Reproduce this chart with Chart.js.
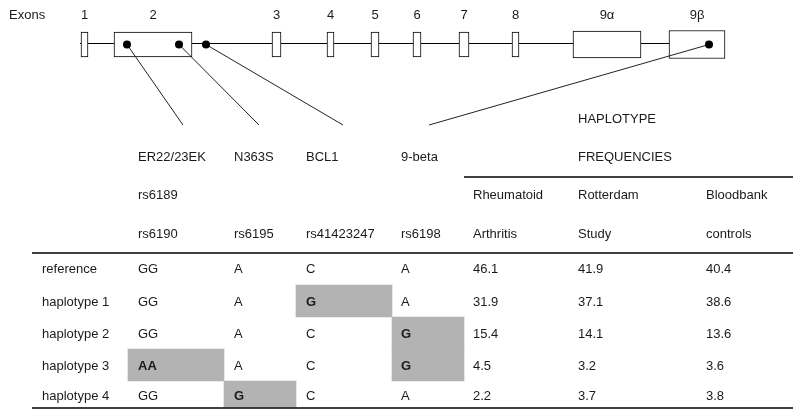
<!DOCTYPE html>
<html>
<head>
<meta charset="utf-8">
<script src="https://cdn.jsdelivr.net/npm/chart.js@4.4.0/dist/chart.umd.min.js"></script>
<style>
  body { margin: 0; background: #fff; }
  #wrap { width: 802px; height: 416px; }
</style>
</head>
<body>
<div id="wrap"><canvas id="chart"></canvas></div>
<script>
// gene map: exons and SNP positions along the (schematic) gene axis
var exonNames = ['1', '2', '3', '4', '5', '6', '7', '8', '9\u03b1', '9\u03b2'];
var exonStart = [81, 114, 272, 327, 371, 413, 459, 512, 573, 669];
var exonEnd   = [88, 192, 281, 334, 379, 421, 469, 519, 641, 725];
var snpPos    = [127, 179, 206, 709];

// haplotype table
var snpNames   = ['ER22/23EK', 'N363S', 'BCL1', '9-beta'];
var snpAlias   = ['rs6189', '', '', ''];
var snpIds     = ['rs6190', 'rs6195', 'rs41423247', 'rs6198'];
var cohortTop  = ['Rheumatoid', 'Rotterdam', 'Bloodbank'];
var cohortBot  = ['Arthritis', 'Study', 'controls'];
var haplotypes = ['reference', 'haplotype 1', 'haplotype 2', 'haplotype 3', 'haplotype 4'];
var alleles = [
    ['GG', 'A', 'C', 'A'],
    ['GG', 'A', 'G', 'A'],
    ['GG', 'A', 'C', 'G'],
    ['AA', 'A', 'C', 'G'],
    ['GG', 'G', 'C', 'A']
];
var freqRA = [46.1, 31.9, 15.4, 4.5, 2.2];
var freqRS = [41.9, 37.1, 14.1, 3.2, 3.7];
var freqBB = [40.4, 38.6, 13.6, 3.6, 3.8];

// layout (figure units = pixels of the 802x416 frame)
var geneY = 44.5;
var exonHeight = [25, 25, 25, 25, 25, 25, 25, 25, 27, 28];
var leadEndX = [183, 259, 343, 429];
var leadEndY = 125;
var colX = [42, 138, 234, 306, 401, 473, 578, 706];
var colEdge = [32, 128, 224, 296, 392, 464, 793];
var headY = [156.5, 194.5, 233];
var rowTop = [253, 285, 317, 349, 381, 407];
var FONT = '13px "Liberation Sans", Arial, sans-serif';
var BOLD = 'bold 13px "Liberation Sans", Arial, sans-serif';
var INK = '#1a1a1a';

function segment(x1, y1, x2, y2, width, color, order) {
    return {
        type: 'line',
        data: [{x: x1, y: y1}, {x: x2, y: y2}],
        borderColor: color,
        borderWidth: width,
        pointRadius: 0,
        fill: false,
        order: order
    };
}

var datasets = [];

// intron backbone
datasets.push(segment(exonStart[0] - 1, geneY - 1, exonStart[exonStart.length - 1], geneY - 1, 1, '#000', 9));

// exon boxes
exonNames.forEach(function(name, i) {
    datasets.push({
        type: 'bar',
        indexAxis: 'y',
        grouped: false,
        barThickness: exonHeight[i],
        data: [{y: geneY, x: [exonStart[i], exonEnd[i]]}],
        backgroundColor: '#fff',
        borderColor: '#000',
        borderWidth: 1,
        borderSkipped: false,
        order: 8
    });
});

// shaded cells where a haplotype differs from the reference
for (var r = 1; r < alleles.length; r++) {
    for (var c = 0; c < snpNames.length; c++) {
        if (alleles[r][c] !== alleles[0][c]) {
            datasets.push({
                type: 'bar',
                indexAxis: 'y',
                grouped: false,
                barThickness: rowTop[r + 1] - rowTop[r],
                data: [{y: (rowTop[r] + rowTop[r + 1]) / 2, x: [colEdge[c + 1], colEdge[c + 2]]}],
                backgroundColor: '#b3b3b3',
                borderWidth: 0,
                order: 7
            });
        }
    }
}

// leader lines from SNPs to their table columns
snpPos.forEach(function(p, i) {
    datasets.push(segment(p, geneY, leadEndX[i], leadEndY, 1, '#222', 3));
});

// table rules
datasets.push(segment(colEdge[0], rowTop[0], colEdge[6], rowTop[0], 1.5, '#000', 2));
datasets.push(segment(colEdge[5], 177, colEdge[6], 177, 1.5, '#000', 2));
datasets.push(segment(colEdge[0], rowTop[5] + 1, colEdge[6], rowTop[5] + 1, 1.5, '#000', 2));

// SNP dots
datasets.push({
    type: 'line',
    showLine: false,
    data: snpPos.map(function(p) { return {x: p, y: geneY}; }),
    pointRadius: 4,
    pointBackgroundColor: '#000',
    pointBorderWidth: 0,
    order: 1
});

// texts placed through the chart scales
var textPlugin = {
    id: 'tableText',
    afterDatasetsDraw: function(chart) {
        var ctx = chart.ctx;
        var sx = chart.scales.x, sy = chart.scales.y;
        function put(str, x, y, bold, align) {
            ctx.font = bold ? BOLD : FONT;
            ctx.textAlign = align || 'left';
            ctx.fillText(str, sx.getPixelForValue(x), sy.getPixelForValue(y + 4.6));
        }
        ctx.save();
        ctx.fillStyle = INK;
        ctx.textBaseline = 'alphabetic';

        put('Exons', 9, 14.8);
        exonNames.forEach(function(name, i) {
            put(name, (exonStart[i] + exonEnd[i]) / 2, 14.8, false, 'center');
        });

        snpNames.forEach(function(s, i) {
            put(s, colX[i + 1], headY[0]);
            put(snpAlias[i], colX[i + 1], headY[1]);
            put(snpIds[i], colX[i + 1], headY[2]);
        });
        put('HAPLOTYPE', colX[6], 118);
        put('FREQUENCIES', colX[6], headY[0]);
        cohortTop.forEach(function(s, i) {
            put(s, colX[i + 5], headY[1]);
            put(cohortBot[i], colX[i + 5], headY[2]);
        });

        var rowY = [268, 301, 333, 365, 395];
        haplotypes.forEach(function(h, r) {
            put(h, colX[0], rowY[r]);
            alleles[r].forEach(function(a, c) {
                put(a, colX[c + 1], rowY[r], r > 0 && a !== alleles[0][c]);
            });
            put(freqRA[r].toFixed(1), colX[5], rowY[r]);
            put(freqRS[r].toFixed(1), colX[6], rowY[r]);
            put(freqBB[r].toFixed(1), colX[7], rowY[r]);
        });
        ctx.restore();
    }
};

var ctx = document.getElementById('chart').getContext('2d');
new Chart(ctx, {
    type: 'bar',
    data: {datasets: datasets},
    options: {
        responsive: true,
        maintainAspectRatio: false,
        animation: false,
        events: [],
        layout: {padding: 0, autoPadding: false},
        plugins: {legend: {display: false}, tooltip: {enabled: false}},
        scales: {
            x: {type: 'linear', min: 0, max: 802, offset: false, display: false},
            y: {type: 'linear', min: 0, max: 416, offset: false, reverse: true, display: false}
        }
    },
    plugins: [textPlugin]
});
</script>
</body>
</html>
